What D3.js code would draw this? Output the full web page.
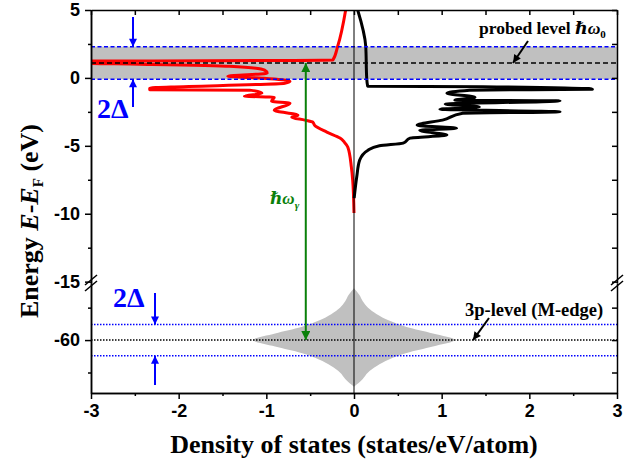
<!DOCTYPE html>
<html>
<head>
<meta charset="utf-8">
<script src="https://cdn.jsdelivr.net/npm/d3@7"></script>
<style>
  body { margin: 0; background: #fff; }
  svg { font-family: "Liberation Serif", "DejaVu Serif", serif; }
  .axis text { font-size: 18px; font-weight: bold; fill: #000; }
  .axis path, .axis line { stroke: #000; stroke-width: 1.5; }
</style>
</head>
<body>
<svg></svg>
<script>
const WIDTH = 640;
const HEIGHT = 463;
const svg = d3.select('svg').attr('width', WIDTH).attr('height', HEIGHT);

// --- data ---
// red DOS (drawn to the left), x = -DOS, E in eV
const redX = [-0.095, -0.186, -0.243, -3.1, -3.1, -2.45, -1.42, -1.02, -0.99, -1.44, -1.05, -0.73, -0.79, -2.33, -2.33,
  -1.19, -1.05, -1.25, -0.91, -0.94, -0.73, -0.91, -0.64, -0.71, -0.56, -0.47, -0.45, -0.31, -0.16, -0.11, -0.07, -0.03, -0.015, 0];
const redE = [5.0, 2.33, 1.30, 1.23, 1.08, 1.01, 0.86, 0.57, 0.35, 0.13, -0.02, -0.24, -0.39, -0.76, -0.87,
  -0.90, -1.13, -1.35, -1.42, -1.71, -1.86, -2.38, -2.74, -2.89, -3.11, -3.26, -3.48, -3.99, -4.43, -4.73, -5.10, -6.57, -7.52, -9.95];
// black DOS (drawn to the right)
const blackX = [0.042, 0.134, 0.145, 0.156, 1.47, 2.72, 1.32, 1.06, 1.38, 1.15, 2.35, 1.04, 1.43, 0.98, 2.35, 1.24,
  1.01, 0.72, 1.17, 0.75, 1.06, 0.64, 0.56, 0.29, 0.16, 0.065, 0.031, 0.002];
const blackE = [5.0, 2.33, -0.02, -0.61, -0.65, -0.83, -0.90, -1.13, -1.42, -1.64, -1.69, -1.93, -2.15, -2.30, -2.50, -2.60,
  -3.11, -3.48, -3.70, -3.85, -4.21, -4.43, -4.80, -5.0, -5.32, -6.05, -7.3, -8.85];
// 3p core level line shape (half width vs energy)
const coreE = [-56.0, -56.5, -57.0, -57.5, -58.0, -58.5, -59.0, -59.5, -60.0, -60.5, -61.0, -61.5, -62.0, -62.5, -63.0, -63.6];
const coreW = [0, 0.06, 0.1, 0.16, 0.26, 0.40, 0.6, 0.9, 1.15, 0.9, 0.6, 0.4, 0.26, 0.16, 0.1, 0];

const probedLevel = 1.1;
const coreLevel = -60;
const gap = 1.2;          // Delta
const photonX = -0.55;    // position of the hbar omega_gamma arrow

const xTicks = [-3, -2, -1, 0, 1, 2, 3];
const xMinor = [-2.5, -1.5, -0.5, 0.5, 1.5, 2.5];
const yTopTicks = [-15, -10, -5, 0, 5];
const yTopMinor = [-12.5, -7.5, -2.5, 2.5];
const yBotTicks = [-60];
const yBotMinor = [-62.5, -57.5];

// --- layout ---
const LEFT = 91, RIGHT = 617, TOP = 10, BOTTOM = 393, BREAK = 283;

const x = d3.scaleLinear().domain([-3, 3]).range([LEFT, RIGHT]);
const yTop = d3.scaleLinear().domain([-15.1, 5]).range([BREAK, TOP]);
const yBot = d3.scaleLinear().domain([-64.08, -55.6]).range([BOTTOM, BREAK]);
const plain = d => String(d); // hyphen minus like the original

const defs = svg.append('defs');
defs.append('clipPath').attr('id', 'clipTop')
  .append('rect').attr('x', LEFT).attr('y', TOP).attr('width', RIGHT - LEFT).attr('height', BREAK - TOP);

function marker(id, color, w, h) {
  defs.append('marker')
    .attr('id', id)
    .attr('viewBox', '0 0 10 10')
    .attr('refX', 10).attr('refY', 5)
    .attr('markerUnits', 'userSpaceOnUse')
    .attr('markerWidth', h).attr('markerHeight', w)
    .attr('orient', 'auto-start-reverse')
    .append('path').attr('d', 'M0,0L10,5L0,10Z').attr('fill', color);
}
marker('arrBlue', '#0000ff', 8, 12);
marker('arrBlack', '#000', 8, 12);
marker('arrGreen', '#0a800a', 9, 12);

// gray band for the probed level
svg.append('rect')
  .attr('x', LEFT).attr('width', RIGHT - LEFT)
  .attr('y', yTop(probedLevel + gap))
  .attr('height', yTop(probedLevel - gap) - yTop(probedLevel + gap))
  .attr('fill', '#c0c0c0');

// 3p core line shape
const coreData = coreE.map((e, i) => ({e, w: coreW[i]}));
svg.append('path')
  .datum(coreData)
  .attr('fill', '#c0c0c0')
  .attr('d', d3.area()
    .curve(d3.curveMonotoneY)
    .y(d => yBot(d.e))
    .x0(d => x(-d.w))
    .x1(d => x(d.w)));

// DOS curves
const line = d3.line().curve(d3.curveMonotoneY).x(d => x(d[0])).y(d => yTop(d[1]));
const curves = svg.append('g').attr('clip-path', 'url(#clipTop)');
curves.append('path')
  .attr('d', line(redX.map((v, i) => [v, redE[i]])))
  .attr('fill', 'none').attr('stroke', '#ff0000').attr('stroke-width', 3).attr('stroke-linejoin', 'round');
curves.append('path')
  .attr('d', line(blackX.map((v, i) => [v, blackE[i]])))
  .attr('fill', 'none').attr('stroke', '#000').attr('stroke-width', 3).attr('stroke-linejoin', 'round');

// level lines
function hline(yy, color, dash) {
  svg.append('line')
    .attr('x1', LEFT).attr('x2', RIGHT).attr('y1', yy).attr('y2', yy)
    .attr('stroke', color).attr('stroke-width', 1.5).attr('stroke-dasharray', dash);
}
hline(yTop(probedLevel + gap), '#0000ff', '4,2.5');
hline(yTop(probedLevel - gap), '#0000ff', '4,2.5');
hline(yTop(probedLevel), '#000', '5,3');
hline(yBot(coreLevel + gap), '#0000ff', '1.5,1.5');
hline(yBot(coreLevel - gap), '#0000ff', '1.5,1.5');
hline(yBot(coreLevel), '#000', '1.5,1.5');

// zero line
svg.append('line')
  .attr('x1', x(0)).attr('x2', x(0)).attr('y1', TOP).attr('y2', BOTTOM)
  .attr('stroke', '#000').attr('stroke-width', 1);

// axes
function addAxis(axis, tx, ty) {
  const g = svg.append('g').attr('class', 'axis').attr('transform', `translate(${tx},${ty})`).call(axis);
  g.selectAll('text').attr('font-family', null);
  return g;
}
addAxis(d3.axisBottom(x).tickValues(xTicks).tickSize(6).tickSizeOuter(0).tickPadding(5).tickFormat(plain), 0, BOTTOM);
addAxis(d3.axisBottom(x).tickValues(xMinor).tickSize(3).tickSizeOuter(0).tickFormat(''), 0, BOTTOM);
addAxis(d3.axisBottom(x).tickValues(xTicks.concat(xMinor)).tickSize(5).tickSizeOuter(0).tickFormat(''), 0, TOP);

addAxis(d3.axisLeft(yTop).tickValues(yTopTicks).tickSize(6).tickSizeOuter(0).tickPadding(5).tickFormat(plain), LEFT, 0);
addAxis(d3.axisLeft(yTop).tickValues(yTopMinor).tickSize(3).tickSizeOuter(0).tickFormat(''), LEFT, 0);
addAxis(d3.axisLeft(yBot).tickValues(yBotTicks).tickSize(6).tickSizeOuter(0).tickPadding(5).tickFormat(plain), LEFT, 0);
addAxis(d3.axisLeft(yBot).tickValues(yBotMinor).tickSize(3).tickSizeOuter(0).tickFormat(''), LEFT, 0);

addAxis(d3.axisLeft(yTop).tickValues(yTopTicks.concat(yTopMinor)).tickSize(5).tickSizeOuter(0).tickFormat(''), RIGHT, 0);
addAxis(d3.axisLeft(yBot).tickValues(yBotTicks.concat(yBotMinor)).tickSize(5).tickSizeOuter(0).tickFormat(''), RIGHT, 0);

// axis break marks
[LEFT, RIGHT].forEach(ax => {
  [-3, 3].forEach(off => {
    svg.append('line')
      .attr('x1', ax - 6).attr('y1', BREAK + 5 + off)
      .attr('x2', ax + 6).attr('y2', BREAK - 5 + off)
      .attr('stroke', '#000').attr('stroke-width', 1.5);
  });
});

// arrows
function arrow(x1, y1, x2, y2, color, id, width, both) {
  const l = svg.append('line')
    .attr('x1', x1).attr('y1', y1).attr('x2', x2).attr('y2', y2)
    .attr('stroke', color).attr('stroke-width', width)
    .attr('marker-end', `url(#${id})`);
  if (both) l.attr('marker-start', `url(#${id})`);
}
arrow(133, 17, 133, yTop(probedLevel + gap), '#0000ff', 'arrBlue', 2);
arrow(133, 107, 133, yTop(probedLevel - gap), '#0000ff', 'arrBlue', 2);
arrow(155, 293, 155, yBot(coreLevel + gap), '#0000ff', 'arrBlue', 2);
arrow(155, 385, 155, yBot(coreLevel - gap), '#0000ff', 'arrBlue', 2);
arrow(x(photonX), yBot(coreLevel), x(photonX), yTop(probedLevel), '#0a800a', 'arrGreen', 2, true);
arrow(528, 41, 513, yTop(probedLevel), '#000', 'arrBlack', 2);
arrow(489, 318, 473, yBot(coreLevel), '#000', 'arrBlack', 2);

// labels
svg.append('text').attr('x', 97).attr('y', 118)
  .attr('fill', '#0000ff').attr('font-size', 28).attr('font-weight', 'bold').text('2Δ');
svg.append('text').attr('x', 113).attr('y', 307)
  .attr('fill', '#0000ff').attr('font-size', 28).attr('font-weight', 'bold').text('2Δ');

const probed = svg.append('text').attr('x', 479).attr('y', 34)
  .attr('font-size', 17.5).attr('font-weight', 'bold');
probed.append('tspan').text('probed level ');
probed.append('tspan').attr('font-style', 'italic').text('ℏω');
probed.append('tspan').attr('font-size', 11).attr('dy', 4).text('0');

svg.append('text').attr('x', 465).attr('y', 316)
  .attr('font-size', 18.5).attr('font-weight', 'bold').text('3p-level (M-edge)');

const photon = svg.append('text').attr('x', 270).attr('y', 204)
  .attr('fill', '#0a800a').attr('font-size', 17).attr('font-weight', 'bold').attr('font-style', 'italic');
photon.append('tspan').text('ℏω');
photon.append('tspan').attr('font-size', 11).attr('dy', 5).text('γ');

svg.append('text').attr('x', 354).attr('y', 453)
  .attr('text-anchor', 'middle').attr('font-size', 26).attr('font-weight', 'bold')
  .text('Density of states (states/eV/atom)');

const ylab = svg.append('text')
  .attr('transform', 'translate(38,221) rotate(-90)')
  .attr('text-anchor', 'middle').attr('font-size', 26).attr('font-weight', 'bold');
ylab.append('tspan').text('Energy ');
ylab.append('tspan').attr('font-style', 'italic').text('E');
ylab.append('tspan').text('-');
ylab.append('tspan').attr('font-style', 'italic').text('E');
ylab.append('tspan').attr('font-size', 15).attr('dy', 5).text('F');
ylab.append('tspan').attr('dy', -5).text(' (eV)');
</script>
</body>
</html>
